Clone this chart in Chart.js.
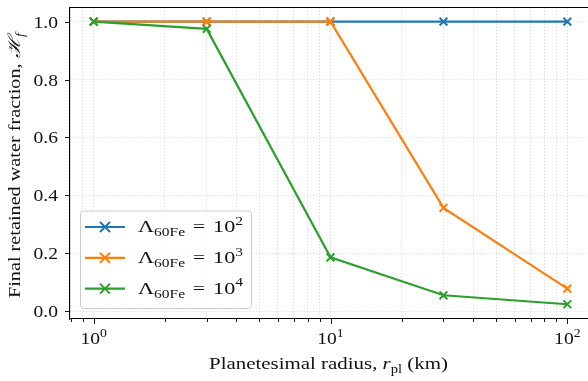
<!DOCTYPE html>
<html>
<head>
<meta charset="utf-8">
<script src="https://cdn.jsdelivr.net/npm/chart.js@4.4.1/dist/chart.umd.min.js"></script>
<style>
  html, body { margin: 0; padding: 0; background: #fff; overflow: hidden; }
  #wrap { width: 600px; height: 381px; }
</style>
</head>
<body>
<div id="wrap"><canvas id="chart" width="600" height="381"></canvas></div>
<script>
// planetesimal radius (km)
const radii = [1, 3, 10, 30, 100];
// Lambda_60Fe = 10^n
const lambdaExp = [2, 3, 4];
const frac1e2 = [1, 1, 1, 1, 1];
const frac1e3 = [1, 1, 1, 0.357, 0.078];
const frac1e4 = [1, 0.975, 0.186, 0.055, 0.024];
const yTicks = [0, 0.2, 0.4, 0.6, 0.8, 1.0];
const yTickLabels = ['0.0', '0.2', '0.4', '0.6', '0.8', '1.0'];
const xMajor = [1, 10, 100];
const xMajorExp = [0, 1, 2];
const minorMult = [2, 3, 4, 5, 6, 7, 8, 9];

const colors = ['#1f77b4', '#ff7f0e', '#2ca02c'];
const FONT = '"Liberation Serif", "DejaVu Serif", serif';
const FS = 17;
const SX = 1.15; // Computer Modern runs wider than Times

const xMin = Math.pow(10, -0.1), xMax = Math.pow(10, 2.1);
const yMin = -0.0269, yMax = 1.0489;

// all x tick positions (major + minor) inside the range
const xTicks = [];
[0.1, 1, 10, 100].forEach(function (dec) {
  [1].concat(minorMult).forEach(function (m) {
    const v = +(dec * m).toPrecision(3);
    if (v >= xMin && v <= xMax) xTicks.push(v);
  });
});

function pts(ys) {
  return radii.map(function (r, i) { return { x: r, y: ys[i] }; });
}

const series = [frac1e2, frac1e3, frac1e4];

function ds(i) {
  return {
    label: 'Lambda 10^' + lambdaExp[i],
    data: pts(series[i]),
    borderColor: colors[i],
    backgroundColor: colors[i],
    borderWidth: 2.2,
    pointStyle: 'crossRot',
    pointRadius: 5.5,
    pointBorderWidth: 2,
    pointHoverRadius: 5.5,
    tension: 0,
    order: 3 - i,
  };
}

// rich text: parts {t, s: 'n'|'sub'|'sup', i: italic, pad: extra px each side}
function setFont(ctx, p, size) {
  const s = p.s === 'n' ? size : size * 0.7;
  ctx.font = (p.i ? 'italic ' : '') + s + 'px ' + FONT;
}
function richWidth(ctx, parts, size) {
  let w = 0;
  parts.forEach(function (p) {
    setFont(ctx, p, size);
    w += ctx.measureText(p.t).width + 2 * (p.pad || 0);
  });
  return w;
}
function drawRich(ctx, parts, x, y, size, align, sx) {
  const w = richWidth(ctx, parts, size) * sx;
  let x0 = x;
  if (align === 'center') x0 = x - w / 2;
  if (align === 'right') x0 = x - w;
  ctx.save();
  ctx.textAlign = 'left';
  ctx.translate(x0, y);
  ctx.scale(sx, 1);
  let cx = 0;
  parts.forEach(function (p) {
    setFont(ctx, p, size);
    let dy = 0;
    if (p.s === 'sub') dy = size * 0.25;
    if (p.s === 'sup') dy = -size * 0.42;
    cx += p.pad || 0;
    ctx.fillText(p.t, cx, dy);
    cx += ctx.measureText(p.t).width + (p.pad || 0);
  });
  ctx.restore();
}

const decor = {
  id: 'decor',
  afterDraw: function (chart) {
    const ctx = chart.ctx, a = chart.chartArea;
    const xs = chart.scales.x, ys = chart.scales.y;
    ctx.save();
    ctx.strokeStyle = '#000';
    ctx.fillStyle = '#111';
    ctx.lineWidth = 1.1;
    // top spine
    ctx.beginPath();
    ctx.moveTo(a.left, a.top);
    ctx.lineTo(a.right, a.top);
    ctx.stroke();
    // x tick marks
    ctx.lineWidth = 0.9;
    xTicks.forEach(function (v) {
      const px = Math.round(xs.getPixelForValue(v)) + 0.5;
      const len = xMajor.indexOf(v) >= 0 ? 5 : 3;
      ctx.beginPath();
      ctx.moveTo(px, a.bottom);
      ctx.lineTo(px, a.bottom + len);
      ctx.stroke();
    });
    // y tick marks + labels
    ctx.textBaseline = 'alphabetic';
    yTicks.forEach(function (v, i) {
      const py = Math.round(ys.getPixelForValue(v)) + 0.5;
      ctx.beginPath();
      ctx.moveTo(a.left, py);
      ctx.lineTo(a.left - 5, py);
      ctx.stroke();
      drawRich(ctx, [{ t: yTickLabels[i], s: 'n' }], a.left - 12, py + 5.5, FS, 'right', SX);
    });
    // x tick labels 10^n
    xMajor.forEach(function (v, i) {
      const px = xs.getPixelForValue(v);
      const parts = [{ t: '10', s: 'n' }, { t: String(xMajorExp[i]), s: 'sup' }];
      drawRich(ctx, parts, px, a.bottom + 25, FS, 'center', SX);
    });
    // x axis title
    const xt = [
      { t: 'Planetesimal radius, ', s: 'n' },
      { t: 'r', s: 'n', i: true },
      { t: 'pl', s: 'sub' },
      { t: ' (km)', s: 'n' },
    ];
    const xw = richWidth(ctx, xt, FS);
    drawRich(ctx, xt, 328.5, 369, FS, 'center', 239 / xw);
    // y axis title
    const yt = [
      { t: 'Final retained water fraction, ', s: 'n' },
      { t: '\u210B', s: 'n', i: true },
      { t: 'f', s: 'sub', i: true },
    ];
    const yw = richWidth(ctx, yt, FS);
    ctx.save();
    ctx.translate(20, 165.5);
    ctx.rotate(-Math.PI / 2);
    drawRich(ctx, yt, 0, 0, FS, 'center', 265 / yw);
    ctx.restore();

    // legend
    const lx = 80, ly = 210.5, lw = 171, lh = 97.5;
    ctx.fillStyle = 'rgba(255,255,255,0.8)';
    ctx.strokeStyle = '#cccccc';
    ctx.lineWidth = 1;
    ctx.beginPath();
    ctx.roundRect(lx + 0.5, ly + 0.5, lw, lh, 3);
    ctx.fill();
    ctx.stroke();
    chart.data.datasets.forEach(function (d, i) {
      const cy = 227 + i * 30.8;
      ctx.strokeStyle = d.borderColor;
      ctx.lineWidth = 2.2;
      ctx.beginPath();
      ctx.moveTo(85, cy);
      ctx.lineTo(125, cy);
      ctx.stroke();
      ctx.lineWidth = 2;
      const r = 5;
      ctx.beginPath();
      ctx.moveTo(105 - r, cy - r); ctx.lineTo(105 + r, cy + r);
      ctx.moveTo(105 - r, cy + r); ctx.lineTo(105 + r, cy - r);
      ctx.stroke();
      ctx.fillStyle = '#111';
      const parts = [
        { t: '\u039B', s: 'n' },
        { t: '60Fe', s: 'sub' },
        { t: '=', s: 'n', pad: 6 },
        { t: '10', s: 'n' },
        { t: String(lambdaExp[i]), s: 'sup' },
      ];
      const w = richWidth(ctx, parts, FS);
      drawRich(ctx, parts, 138, cy + 5, FS, 'left', 105 / w);
    });
    ctx.restore();
  }
};

const gridOpts = {
  color: '#cfcfcf',
  lineWidth: 0.9,
  drawTicks: false,
};
const borderOpts = { display: true, color: '#000', width: 1.1, dash: [1, 2.2] };

new Chart(document.getElementById('chart'), {
  type: 'line',
  data: { datasets: [ds(0), ds(1), ds(2)] },
  plugins: [decor],
  options: {
    responsive: false,
    animation: false,
    events: [],
    layout: { padding: { left: 70, top: 7, right: 9, bottom: 62 } },
    plugins: { legend: { display: false }, tooltip: { enabled: false } },
    scales: {
      x: {
        type: 'logarithmic',
        min: xMin,
        max: xMax,
        afterBuildTicks: function (s) { s.ticks = xTicks.map(function (v) { return { value: v }; }); },
        ticks: { display: false },
        grid: gridOpts,
        border: borderOpts,
      },
      y: {
        type: 'linear',
        min: yMin,
        max: yMax,
        afterBuildTicks: function (s) { s.ticks = yTicks.map(function (v) { return { value: v }; }); },
        ticks: { display: false },
        grid: gridOpts,
        border: borderOpts,
      },
    },
  },
});
</script>
</body>
</html>
